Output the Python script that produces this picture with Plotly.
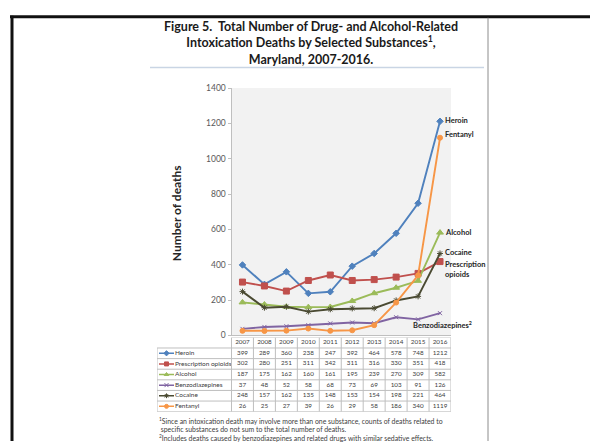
import plotly.graph_objects as go

# ---- data -------------------------------------------------------------
years = [2007, 2008, 2009, 2010, 2011, 2012, 2013, 2014, 2015, 2016]

series_names = ["Heroin", "Prescription opioids", "Alcohol",
                "Benzodiazepines", "Cocaine", "Fentanyl"]

heroin = [399, 289, 360, 238, 247, 392, 464, 578, 748, 1212]
prescription_opioids = [302, 280, 251, 311, 342, 311, 316, 330, 351, 418]
alcohol = [187, 175, 162, 160, 161, 195, 239, 270, 309, 582]
benzodiazepines = [37, 48, 52, 58, 68, 73, 69, 103, 91, 126]
cocaine = [248, 157, 162, 135, 148, 153, 154, 198, 221, 464]
fentanyl = [26, 25, 27, 39, 26, 29, 58, 186, 340, 1119]

series_values = [heroin, prescription_opioids, alcohol,
                 benzodiazepines, cocaine, fentanyl]

end_labels = ["Heroin", "Prescription<br>opioids", "Alcohol",
              "Benzodiazepines<sup>2</sup>", "Cocaine", "Fentanyl"]

y_ticks = [0, 200, 400, 600, 800, 1000, 1200, 1400]

# ---- styling ----------------------------------------------------------
colors = ["#4f81bd", "#c0504d", "#9bbb59", "#8064a2", "#4a4a32", "#f79646"]
symbols = ["diamond", "square", "triangle-up", "x-thin", "asterisk-open", "circle"]
msizes = [5, 6, 6, 4, 5, 5]
# pixel offsets (x, y) of the end-of-line labels
label_shift = [(3, 1), (3, -8), (3, 0), (34, -12), (3, 1), (3, 3)]
label_anchor = ["left", "left", "left", "right", "left", "left"]

W, H = 590, 446
FONT = "Lato"
TXT = "#404040"
GRID = "#bfbfbf"

# plot-area geometry in pixels
PX_L, PX_R = 231.5, 451.0
PY_T, PY_B = 85.0, 338.0
TAB_L, TAB_T, TAB_B = 157.0, 340.0, 416.0
COL_W = (PX_R - PX_L) / len(years)


def px2x(px):
    """pixel column -> table x-axis value (years share the plot spacing)"""
    return years[0] - 0.5 + (px - PX_L) / COL_W


def fx(px):
    return px / W


def fy(py):
    return 1 - py / H


fig = go.Figure()

# ---- line series ------------------------------------------------------
for name, vals, c, s, ms in zip(series_names, series_values, colors, symbols, msizes):
    fig.add_trace(go.Scatter(
        x=years, y=vals, name=name, mode="lines+markers",
        line=dict(color=c, width=1.9),
        marker=dict(symbol=s, size=ms, color=c, line=dict(color=c, width=1)),
        xaxis="x", yaxis="y", showlegend=False, hoverinfo="x+y+name",
    ))

# ---- data table below the chart --------------------------------------
n_rows = len(series_names)
tab_left = px2x(TAB_L)
x_last = years[-1] + 0.5

# header row with the years
fig.add_trace(go.Scatter(
    x=years, y=[0] * len(years), mode="text",
    text=[str(y) for y in years],
    textfont=dict(family=FONT, size=6.3, color=TXT),
    xaxis="x2", yaxis="y2", showlegend=False, hoverinfo="skip",
))

for i, (name, vals, c, s) in enumerate(zip(series_names, series_values, colors, symbols)):
    row = i + 1
    fig.add_trace(go.Scatter(
        x=years, y=[row] * len(years), mode="text",
        text=[str(v) for v in vals],
        textfont=dict(family=FONT, size=6.3, color=TXT),
        xaxis="x2", yaxis="y2", showlegend=False, hoverinfo="skip",
    ))
    # legend key: short line with the series marker, then its name
    kx0, kx1 = px2x(TAB_L + 2), px2x(TAB_L + 17)
    fig.add_trace(go.Scatter(
        x=[(kx0 + kx1) / 2], y=[row], mode="markers",
        marker=dict(symbol=s, size=4, color=c, line=dict(color=c, width=1)),
        xaxis="x2", yaxis="y2", showlegend=False, hoverinfo="skip",
    ))
    fig.add_trace(go.Scatter(
        x=[kx0, kx1], y=[row, row], mode="lines",
        line=dict(color=c, width=1.5),
        xaxis="x2", yaxis="y2", showlegend=False, hoverinfo="skip",
    ))
    fig.add_trace(go.Scatter(
        x=[px2x(TAB_L + 18)], y=[row], mode="text", text=[name],
        textposition="middle right",
        textfont=dict(family=FONT, size=6.5, color=TXT),
        xaxis="x2", yaxis="y2", showlegend=False, hoverinfo="skip",
    ))

shapes = []
# table grid
shapes.append(dict(type="line", xref="x2", yref="y2", x0=years[0] - 0.5, x1=x_last,
                   y0=-0.5, y1=-0.5, line=dict(color=GRID, width=1)))
for r in range(n_rows + 1):
    shapes.append(dict(type="line", xref="x2", yref="y2", x0=tab_left, x1=x_last,
                       y0=r + 0.5, y1=r + 0.5, line=dict(color=GRID, width=1)))
for k in range(len(years) + 1):
    xb = years[0] - 0.5 + k
    shapes.append(dict(type="line", xref="x2", yref="y2", x0=xb, x1=xb,
                       y0=-0.5, y1=n_rows + 0.5, line=dict(color=GRID, width=1)))
shapes.append(dict(type="line", xref="x2", yref="y2", x0=tab_left, x1=tab_left,
                   y0=0.5, y1=n_rows + 0.5, line=dict(color=GRID, width=1)))

# plot-area background
shapes.append(dict(type="rect", xref="x domain", yref="y domain", x0=0, x1=1, y0=0, y1=1,
                   fillcolor="#f2f2f2", line=dict(width=0), layer="below"))

# page frame: heavy black edges and the thin page boundary
shapes.append(dict(type="line", xref="paper", yref="paper", x0=fx(10), x1=1,
                   y0=fy(12), y1=fy(12), line=dict(color="#111111", width=3)))
shapes.append(dict(type="line", xref="paper", yref="paper", x0=fx(12), x1=fx(12),
                   y0=fy(11), y1=0, line=dict(color="#111111", width=3)))
shapes.append(dict(type="line", xref="paper", yref="paper", x0=fx(488), x1=fx(488),
                   y0=fy(13), y1=0, line=dict(color="#8c8c8c", width=1)))
# rule under the title
shapes.append(dict(type="line", xref="paper", yref="paper", x0=fx(150), x1=fx(484),
                   y0=fy(64), y1=fy(64), line=dict(color="#c9d5e4", width=1.5)))

annotations = []
# title
annotations.append(dict(
    xref="paper", yref="paper", x=fx(311), y=fy(39),
    xanchor="center", yanchor="middle", showarrow=False,
    text="<b>Figure 5.  Total Number of Drug- and Alcohol-Related<br>"
         "Intoxication Deaths by Selected Substances<sup>1</sup>,<br>"
         "Maryland, 2007-2016.</b>",
    font=dict(family=FONT, size=12.5, color="#1a1a1a"), align="center",
))
# y-axis title
annotations.append(dict(
    xref="paper", yref="paper", x=fx(176), y=fy(213),
    xanchor="center", yanchor="middle", showarrow=False,
    text="<b>Number of deaths</b>", textangle=-90,
    font=dict(family=FONT, size=12, color="#262626"),
))
# end-of-line series labels
for lab, vals, (dx, dy), anc in zip(end_labels, series_values, label_shift, label_anchor):
    annotations.append(dict(
        xref="x", yref="y", x=years[-1], y=vals[-1], showarrow=False,
        text="<b>" + lab + "</b>", xanchor=anc, yanchor="middle",
        xshift=dx, yshift=dy, align="left",
        font=dict(family=FONT, size=7.5, color="#262626"),
    ))
# footnotes
footnotes = [
    "<sup>1</sup>Since an intoxication death may involve more than one substance, counts of deaths related to",
    " specific substances do not sum to the total number of deaths.",
    "<sup>2</sup>Includes deaths caused by benzodiazepines and related drugs with similar sedative effects.",
]
for txt, py in zip(footnotes, [426, 434, 442.5]):
    annotations.append(dict(
        xref="paper", yref="paper", x=fx(157), y=fy(py), showarrow=False,
        text=txt, xanchor="left", yanchor="middle",
        font=dict(family=FONT, size=6.9, color=TXT),
    ))

fig.update_layout(
    width=W, height=H,
    margin=dict(l=0, r=0, t=0, b=0),
    paper_bgcolor="white", plot_bgcolor="rgba(0,0,0,0)",
    font=dict(family=FONT),
    xaxis=dict(domain=[fx(PX_L), fx(PX_R)], range=[years[0] - 0.5, years[-1] + 0.5],
               showticklabels=False, ticks="", showgrid=False, zeroline=False,
               showline=True, linecolor=GRID, linewidth=1, fixedrange=True),
    yaxis=dict(domain=[fy(PY_B), fy(PY_T)], range=[0, 1400], tickvals=y_ticks,
               ticks="outside", ticklen=3, tickcolor=GRID, showgrid=False, zeroline=False,
               showline=True, linecolor=GRID, linewidth=1,
               tickfont=dict(family=FONT, size=8.5, color="#595959"), fixedrange=True),
    xaxis2=dict(domain=[fx(TAB_L), fx(PX_R)], range=[tab_left, x_last],
                visible=False, fixedrange=True, anchor="y2"),
    yaxis2=dict(domain=[fy(TAB_B), fy(TAB_T)], range=[n_rows + 0.5, -0.5],
                visible=False, fixedrange=True, anchor="x2"),
    shapes=shapes,
    annotations=annotations,
)

fig.write_html("out.html")
